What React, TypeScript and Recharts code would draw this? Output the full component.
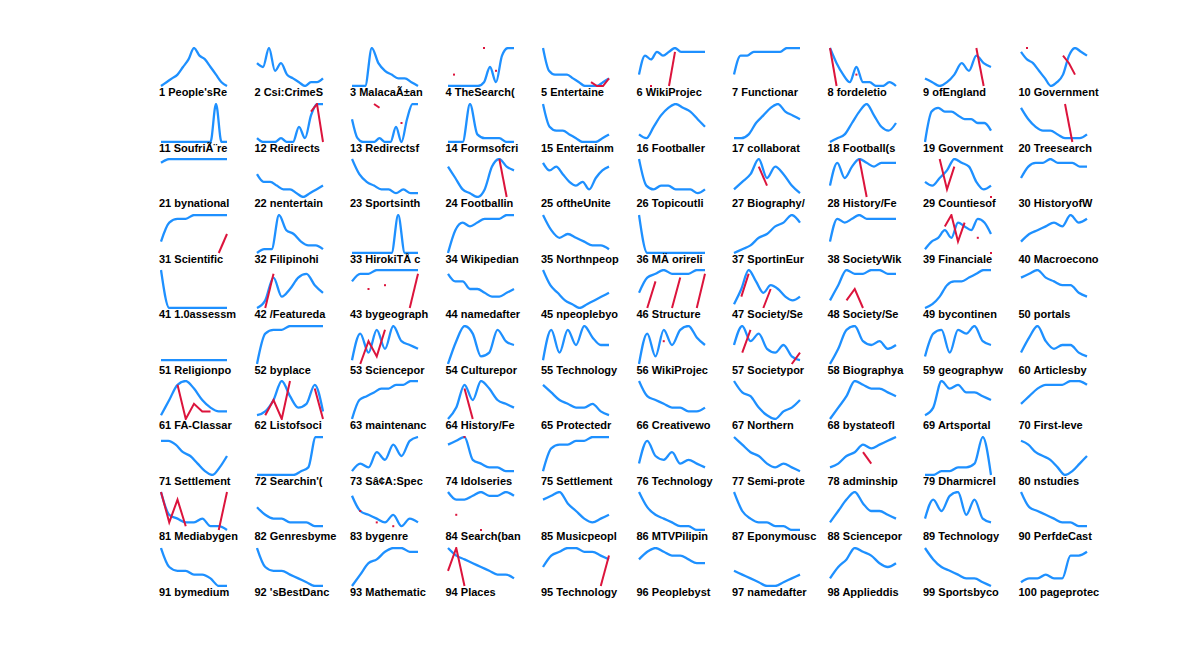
import React from 'react';
import { LineChart, Line, XAxis, YAxis } from 'recharts';

const labels: string[] = ["1 People'sRe","2 Csi:CrimeS","3 MalacaÃ±an","4 TheSearch(","5 Entertaine","6 WikiProjec","7 Functionar","8 fordeletio","9 ofEngland","10 Government","11 SoufriÃ¨re","12 Redirects","13 Redirectsf","14 Formsofcri","15 Entertainm","16 Footballer","17 collaborat","18 Football(s","19 Government","20 Treesearch","21 bynational","22 nentertain","23 Sportsinth","24 Footballin","25 oftheUnite","26 Topicoutli","27 Biography/","28 History/Fe","29 Countiesof","30 HistoryofW","31 Scientific","32 Filipinohi","33 HirokiTÅ c","34 Wikipedian","35 Northnpeop","36 MÄ orireli","37 SportinEur","38 SocietyWik","39 Financiale","40 Macroecono","41 1.0assessm","42 /Featureda","43 bygeograph","44 namedafter","45 npeoplebyo","46 Structure","47 Society/Se","48 Society/Se","49 bycontinen","50 portals","51 Religionpo","52 byplace","53 Sciencepor","54 Culturepor","55 Technology","56 WikiProjec","57 Societypor","58 Biographya","59 geographyw","60 Articlesby","61 FA-Classar","62 Listofsoci","63 maintenanc","64 History/Fe","65 Protectedr","66 Creativewo","67 Northern","68 bystateofl","69 Artsportal","70 First-leve","71 Settlement","72 Searchin'(","73 Sâ¢A:Spec","74 Idolseries","75 Settlement","76 Technology","77 Semi-prote","78 adminship","79 Dharmicrel","80 nstudies","81 Mediabygen","82 Genresbyme","83 bygenre","84 Search(ban","85 Musicpeopl","86 MTVPilipin","87 Eponymousc","88 Sciencepor","89 Technology","90 PerfdeCast","91 bymedium","92 'sBestDanc","93 Mathematic","94 Places","95 Technology","96 Peoplebyst","97 namedafter","98 Applieddis","99 Sportsbyco","100 pageprotec"];

const blue: number[][] = [
[0,1,2,3,5,7,10,8,7,5,3,1,0],[6,5,10,4,6,3,2,1,0,1,1,2],[0,0,0,10,6,4,3,2,2,1,0],[0,0,0,0,0,0,1,5,1,8,10,10],[10,4,3,3,3,2,1,0,0,0,1,2],
[3,8,7,9,8,9,10,9,9,9,9,9],[3,8,8,9,9,9,9,9,10,10,10],[10,6,3,1,5,1,1,0,0,1,0],[2,1,0,1,3,6,4,8,6,5],[9,7,6,4,2,0,1,3,8,10,9,8],
[0,0,0,0,0,0,0,0,0,0,10,0,0],[1,0,0,0,1,0,0,4,1,7,10,10],[6,1,0,0,0,1,0,0,4,0,6,10,10],[0,0,0,10,2,1,1,1,0,0],[10,4,3,3,2,1,0,0,0,1,2],
[2,1,4,7,9,10,9,8,6,4],[1,1,2,5,7,9,10,8,7,6],[0,1,2,5,8,10,7,4,3,5],[0,8,9,8,8,7,6,6,5,5,3],[9,6,4,3,3,2,1,1,1,2],
[9,10,10,10,10,10,10,10,10],[6,4,4,3,2,2,1,0,1,2,3],[10,6,4,3,2,2,1,2,1,1],[8,5,2,1,0,2,8,10,8,7],[9,7,8,6,4,3,4,2,5,7,8],
[10,3,2,3,3,2,2,2,1,2],[2,4,6,10,5,8,6,3,1],[3,9,5,8,10,9,8,9,9,9],[4,3,5,7,10,9,8,4,2,3],[5,8,9,9,10,9,9,9,8,8],
[3,8,9,9,10,10,10,10,10],[0,1,1,10,6,5,3,2,2,1],[0,0,0,0,0,0,0,10,0,0,0],[0,6,8,7,8,9,9,9,10,10],[10,6,4,5,4,3,2,2,1],
[10,0,0,0,0,0,0,0,0],[0,1,2,4,5,7,8,10,8],[3,9,8,9,10,9,9,9,9,9],[1,3,4,6,4,8,7,6,9,8,5],[3,5,6,7,8,7,10,8,9],
[10,0,0,0,0,0,0,0,0],[0,2,8,3,5,8,9,6,4],[7,9,9,10,10,10,10,10,10],[9,7,7,5,5,4,3,3,4,5],[10,6,4,2,1,0,1,2,3,4],
[4,8,9,10,9,9,9,10,10],[1,5,10,7,4,6,5,3,2,3],[2,6,10,9,9,10,10,9,9],[0,1,3,6,7,7,8,9,10,10],[8,9,10,8,7,6,6,4,3],
[1,1,1,1,1,1,1,1,1],[0,8,9,9,10,10,10,10,10],[1,8,3,9,4,10,6,5,4],[0,6,10,8,2,3,9,6,5],[1,9,3,9,5,10,7,5,5],
[0,8,2,9,5,9,10,7,5],[5,10,6,8,4,3,5,2,1],[0,4,9,10,6,5,6,4,5],[2,8,9,3,9,8,10,6,5],[3,7,10,6,4,5,5,3,2],
[1,5,9,10,8,5,3,2,2],[1,2,5,10,6,3,4,9,2],[0,5,6,7,8,8,9,9,10,10],[0,3,9,5,10,8,5,4,3],[9,7,5,4,3,3,4,2,1],
[10,6,5,4,3,3,2,2,3],[10,7,6,3,1,0,2,3,5],[0,3,6,10,9,8,8,7,6],[1,3,10,8,9,7,7,6,5],[4,6,8,9,9,9,10,10,9],
[9,9,8,6,5,3,1,0,2,5],[0,0,0,0,0,0,1,2,10,10],[1,3,2,6,4,8,5,9,10],[8,9,10,4,3,2,2,1,1],[1,7,8,8,9,9,10,10,10],
[3,9,5,4,6,3,4,3,2],[10,8,6,5,3,2,3,2,1],[2,3,5,6,8,7,8,9,10],[0,0,1,1,2,2,3,10,0],[9,8,6,5,4,2,0,1,3,5],
[10,4,3,2,2,3,1,1,0],[6,4,3,3,2,2,2,1,1],[9,5,4,3,2,4,1,3,2],[10,8,8,9,10,9,9,10,9],[8,9,10,7,5,3,2,3,4],
[10,6,4,3,2,1,1,0,0],[10,5,3,2,2,1,1,0,0],[2,5,8,10,7,5,5,4,3],[3,8,5,9,10,4,8,3,2],[10,6,5,4,3,2,2,1,1],
[10,5,4,4,3,3,2,0,0],[10,5,4,4,3,2,1,0,0],[0,3,6,7,9,10,10,9,9],[10,8,7,6,5,4,3,3,2],[5,8,9,10,10,9,9,8,7],
[7,9,10,9,8,8,7,6,6],[4,3,2,1,0,0,1,2,3],[2,5,7,10,9,8,6,5,6],[10,7,5,4,3,2,2,1,0],[1,2,2,3,2,2,8,8,9]
];

const N = null;
const red: Record<number, (number | null)[]> = {
  4: [N,3,N,N,N,N,10,N,4,N,N,N],
  5: [N,N,N,N,N,N,N,N,1,0,0,2],
  6: [N,N,0,N,N,0,9,N,N,N,N,N],
  8: [10,0,N,N,3,N,N,N,N,N,N],
  9: [N,N,N,N,N,N,N,10,0,N],
  10: [N,10,N,N,N,N,N,8,6,3,N,N],
  12: [N,N,N,N,N,N,N,N,N,8,10,0],
  13: [N,N,N,N,10,9,N,N,N,5,N,N,N],
  20: [N,N,N,N,N,N,10,0,N,N],
  24: [N,N,N,N,N,N,N,10,0,N],
  27: [N,N,N,8,3,N,N,N,N],
  28: [N,N,N,N,10,0,N,N,N,N],
  29: [N,N,10,2,8,N,N,N,N,0],
  31: [N,N,N,N,N,N,N,0,5],
  39: [N,N,N,7,10,3,8,N,4,N,0],
  42: [N,0,9,N,N,N,N,N,N],
  43: [N,N,5,N,6,N,N,0,9],
  46: [N,0,7,N,0,8,N,0,9],
  47: [N,3,9,N,0,5,N,N,N,N],
  48: [N,N,2,5,0,N,N,N,N],
  53: [N,0,6,2,9,N,N,N,N],
  56: [N,N,N,6,N,N,N,N,N],
  57: [N,3,9,N,N,N,N,0,3],
  61: [N,N,9,0,4,2,2,N,N],
  62: [N,1,5,0,10,N,N,8,0],
  64: [N,N,8,0,N,N,N,N,N],
  74: [N,N,10,N,N,N,N,N,N],
  78: [N,N,N,N,6,3,N,N,N],
  81: [10,2,8,1,N,N,N,0,10],
  83: [N,5,N,2,N,1,N,N,N],
  84: [N,4,N,N,0,N,N,N,N],
  94: [4,10,0,N,N,N,N,N,N],
  95: [N,N,N,N,N,N,N,0,8],
};

function RedDot(props: any) {
  const { cx, cy, index, payload } = props;
  const arr = payload && payload.__arr;
  if (cx == null || cy == null || !arr) return <g key={index} />;
  const prev = index > 0 ? arr[index - 1] : null;
  const next = index < arr.length - 1 ? arr[index + 1] : null;
  if (arr[index] == null || prev != null || next != null) return <g key={index} />;
  return <rect key={index} x={cx - 1} y={cy - 1} width={2} height={2} fill="#dc143c" />;
}

function Panel({ idx }: { idx: number }) {
  const b = blue[idx];
  const r = red[idx + 1];
  const data = b.map((v, i) => ({ i, b: v, r: r ? r[i] : null, __arr: r }));
  const c = idx % 10, row = Math.floor(idx / 10);
  const left = 160 + c * 95.5, top = 47 + row * 55.5;
  return (
    <>
      <div style={{ position: 'absolute', left, top, width: 68, height: 40 }}>
        <LineChart width={68} height={40} data={data} margin={{ top: 1, right: 1, bottom: 1, left: 1 }}>
          <XAxis dataKey="i" type="number" domain={['dataMin', 'dataMax']} hide />
          <YAxis domain={[0, 10]} hide />
          <Line type="monotone" dataKey="b" stroke="#1e90ff" strokeWidth={2.3} dot={false} isAnimationActive={false} />
          {r && <Line dataKey="r" stroke="#dc143c" strokeWidth={2} dot={<RedDot />} isAnimationActive={false} connectNulls={false} />}
        </LineChart>
      </div>
      <div style={{ position: 'absolute', left: 159, top: 0, transform: `translate(${c * 95.5}px, ${86 + row * 55.5}px)`, fontFamily: '"Liberation Sans", Arial, sans-serif', fontWeight: 'bold', fontSize: 11, whiteSpace: 'nowrap', color: '#000' }}>
        {labels[idx]}
      </div>
    </>
  );
}

export default function App() {
  return (
    <div style={{ position: 'absolute', left: 0, top: 0, width: 1199, height: 662, background: '#fff' }}>
      {blue.map((_, i) => <Panel key={i} idx={i} />)}
    </div>
  );
}
